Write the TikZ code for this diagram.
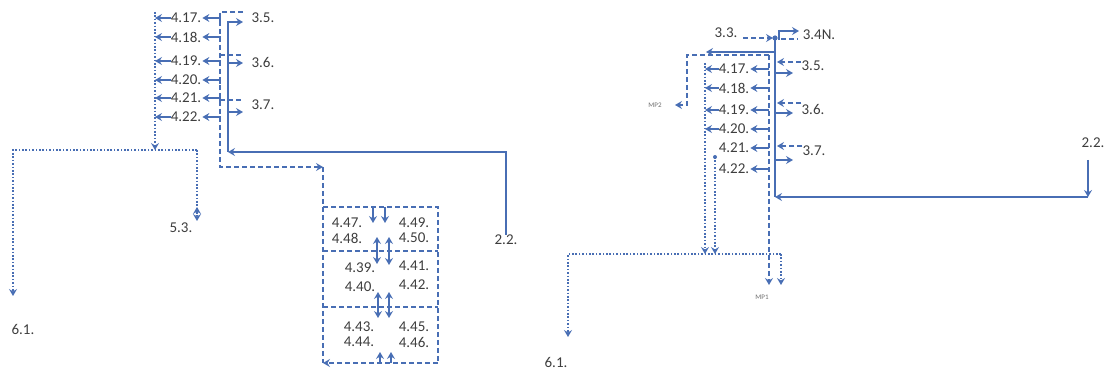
\documentclass[tikz,border=0pt]{standalone}
\usepackage{fontspec}
\setmainfont{Carlito}
\usepackage{xcolor}
\usetikzlibrary{arrows.meta}
\definecolor{lineblue}{RGB}{72,110,180}
\definecolor{textgray}{RGB}{62,62,62}

\begin{document}
\begin{tikzpicture}[>={Stealth[length=7pt,width=8pt,inset=2.5pt]},x=1pt,y=-1pt,thin]
                \tikzset{lbl/.style={text=textgray, font=\fontsize{15}{15}\selectfont, inner sep=0pt},
                         tinylbl/.style={text=textgray!75, font=\fontsize{7}{7}\selectfont, inner sep=0pt},
                         sline/.style={draw=lineblue, line width=1.3pt},
                         dline/.style={draw=lineblue, line width=1.7pt, dash pattern=on 5pt off 3pt},
                         oline/.style={draw=lineblue, line width=1.7pt, dash pattern=on 1.7pt off 1.7pt}}
                \useasboundingbox (0,0) rectangle (1106,371);
                % left part
                \node[lbl] (a417) at (186,18) {4.17.};
                \node[lbl] (a418) at (186,37) {4.18.};
                \node[lbl] (a419) at (186,61) {4.19.};
                \node[lbl] (a420) at (186,80) {4.20.};
                \node[lbl] (a421) at (186,98) {4.21.};
                \node[lbl] (a422) at (186,117) {4.22.};
                \node[lbl] (a35) at (263,18) {3.5.};
                \node[lbl] (a36) at (263,62) {3.6.};
                \node[lbl] (a37) at (263,105) {3.7.};
                \node[lbl] (a53) at (181,228) {5.3.};
                \node[lbl] (a61) at (23,329) {6.1.};
                \node[lbl] (a22) at (506,240) {2.2.};
                \coordinate (aDotTop) at (155,12);
                \coordinate (aHorL) at (13,150);
                \coordinate (aHorR) at (197,150);
                \coordinate (aEnd61) at (13,296);
                \coordinate (aEnd53) at (197,221);
                \coordinate (aDashTop) at (220,12);
                \coordinate (aD35) at (243,12);
                \coordinate (aD36) at (243,55);
                \coordinate (aD37) at (243,100);
                \coordinate (aS35) at (243,22);
                \coordinate (aS36) at (243,63);
                \coordinate (aS37) at (243,112);
                \coordinate (aSolBot) at (228,152);
                \coordinate (aBoxTurn) at (323,167);
                \draw[oline,->] (aDotTop) -- (aDotTop |- aHorR);
                \draw[oline,->] (aHorR) -| (aEnd61);
                \draw[oline,->] (aHorR) -- (aEnd53);
                \draw[lineblue,line width=1.5pt,->] ([yshift=7pt]aEnd53) -- ([yshift=14pt]aEnd53);
                \draw[sline,->] (a417.west) -- (a417.west -| aDotTop);
                \draw[sline,->] (a418.west) -- (a418.west -| aDotTop);
                \draw[sline,->] (a419.west) -- (a419.west -| aDotTop);
                \draw[sline,->] (a420.west) -- (a420.west -| aDotTop);
                \draw[sline,->] (a421.west) -- (a421.west -| aDotTop);
                \draw[sline,->] (a422.west) -- (a422.west -| aDotTop);
                \draw[sline,->,shorten >=1pt] ([yshift=-4pt]a417.east -| aDashTop) |- (a417.east);
                \draw[sline,->,shorten >=1pt] ([yshift=-4pt]a418.east -| aDashTop) |- (a418.east);
                \draw[sline,->,shorten >=1pt] ([yshift=-4pt]a419.east -| aDashTop) |- (a419.east);
                \draw[sline,->,shorten >=1pt] ([yshift=-4pt]a420.east -| aDashTop) |- (a420.east);
                \draw[sline,->,shorten >=1pt] ([yshift=-4pt]a421.east -| aDashTop) |- (a421.east);
                \draw[sline,->,shorten >=1pt] ([yshift=-4pt]a422.east -| aDashTop) |- (a422.east);
                \draw[dline,->] (aD35) -- (aDashTop) |- (aBoxTurn);
                \draw[dline] (aD36 -| aDashTop) -- (aD36);
                \draw[dline] (aD37 -| aDashTop) -- (aD37);
                \draw[sline,->] (a22.north) |- (aSolBot);
                \draw[sline,->] (aSolBot) |- (aS35);
                \draw[sline,->] (aSolBot |- aS36) -- (aS36);
                \draw[sline,->] (aSolBot |- aS37) -- (aS37);
                % box
                \coordinate (bTL) at (323,207);
                \coordinate (bTR) at (438,207);
                \coordinate (bBL) at (323,363);
                \coordinate (bBR) at (438,363);
                \coordinate (bM1) at (323,251);
                \coordinate (bM2) at (323,307);
                \draw[dline] (aBoxTurn) -- (bBL);
                \draw[dline] (bTL) -- (bTR) -- (bBR);
                \draw[dline,->] (bBR) -- (bBL);
                \draw[dline] (bM1) -- (bM1 -| bTR);
                \draw[dline] (bM2) -- (bM2 -| bTR);
                \node[lbl] (b447) at (347,223) {4.47.};
                \node[lbl] (b449) at (414,223) {4.49.};
                \node[lbl] (b448) at (347,238) {4.48.};
                \node[lbl] (b450) at (414,238) {4.50.};
                \node[lbl] (b439) at (360,268) {4.39.};
                \node[lbl] (b441) at (414,266) {4.41.};
                \node[lbl] (b440) at (360,287) {4.40.};
                \node[lbl] (b442) at (414,285) {4.42.};
                \node[lbl] (b443) at (359,327) {4.43.};
                \node[lbl] (b445) at (414,327) {4.45.};
                \node[lbl] (b444) at (359,342) {4.44.};
                \node[lbl] (b446) at (414,342) {4.46.};
                \coordinate (bA1) at (373,207);
                \coordinate (bA2) at (385,207);
                \coordinate (bU1) at (377,237);
                \coordinate (bU2) at (389,237);
                \coordinate (bV1) at (378,292);
                \coordinate (bV2) at (389,292);
                \coordinate (bW1) at (380,363);
                \coordinate (bW2) at (391,363);
                \draw[sline,->] (bA1) -- ([yshift=-16pt]bA1);
                \draw[sline,->] (bA2) -- ([yshift=-16pt]bA2);
                \draw[sline,<->] (bU1) -- ([yshift=-27pt]bU1);
                \draw[sline,<->] (bU2) -- ([yshift=-28pt]bU2);
                \draw[sline,<->] (bV1) -- ([yshift=-26pt]bV1);
                \draw[sline,<->] (bV2) -- ([yshift=-26pt]bV2);
                \draw[sline,->] (bW1) -- ([yshift=11pt]bW1);
                \draw[sline,->] (bW2) -- ([yshift=11pt]bW2);
                % right part
                \node[lbl] (c33) at (726,33) {3.3.};
                \node[lbl] (c34) at (819,35) {3.4N.};
                \node[lbl] (c35) at (813,66) {3.5.};
                \node[lbl] (c36) at (813,109) {3.6.};
                \node[lbl] (c37) at (814,151) {3.7.};
                \node[lbl] (c417) at (734,69) {4.17.};
                \node[lbl] (c418) at (734,88) {4.18.};
                \node[lbl] (c419) at (734,110) {4.19.};
                \node[lbl] (c420) at (734,129) {4.20.};
                \node[lbl] (c421) at (734,148) {4.21.};
                \node[lbl] (c422) at (734,169) {4.22.};
                \node[lbl] (c61) at (556,362) {6.1.};
                \node[lbl] (c22) at (1093,143) {2.2.};
                \node[tinylbl] (mp1) at (762,297) {MP1};
                \node[tinylbl] (mp2) at (655,105) {MP2};
                \coordinate (cDot) at (775,38);
                \coordinate (cD33) at (743,38);
                \coordinate (cS34) at (799,31);
                \coordinate (cD34) at (798,39);
                \coordinate (cS52) at (706,52);
                \coordinate (cS22) at (1088,160);
                \coordinate (cSBot) at (775,197);
                \coordinate (cS35) at (793,73);
                \coordinate (cS36) at (793,113);
                \coordinate (cS37) at (793,160);
                \coordinate (cD35) at (777,62);
                \coordinate (cD36) at (777,103);
                \coordinate (cD37) at (777,146);
                \coordinate (cDV) at (769,55);
                \coordinate (cMP1a) at (769,285);
                \coordinate (cMP1b) at (781,285);
                \coordinate (cMP2) at (687,105);
                \coordinate (cMP2end) at (675,105);
                \coordinate (cO1) at (705,63);
                \coordinate (cO2) at (715,157);
                \coordinate (cOL) at (568,254);
                \coordinate (cOR) at (781,254);
                \coordinate (c61end) at (568,337);
                \draw[dline,->,shorten >=2pt] (cD33) -- (cDot);
                \draw[sline,->] ([xshift=4pt,yshift=-2pt]cDot) |- (cS34);
                \draw[dline] ([xshift=6pt,yshift=-1pt]cDot) -- (cD34);
                \draw[sline,->] (cS22) -- (cS22 |- cSBot);
                \draw[sline,->] (cS22 |- cSBot) -- (cSBot);
                \draw[sline] (cSBot) -- (cDot);
                \draw[sline,->] (cS52 -| cDot) -- (cS52);
                \draw[sline,->] (cS35 -| cDot) -- (cS35);
                \draw[sline,->] (cS36 -| cDot) -- (cS36);
                \draw[sline,->] (cS37 -| cDot) -- (cS37);
                \draw[dline,->] (cD35 -| c35.west) -- (cD35);
                \draw[dline,->] (cD36 -| c36.west) -- (cD36);
                \draw[dline,->] (cD37 -| c37.west) -- (cD37);
                \fill[lineblue] (cDot) circle (2.6);
                \draw[dline,->] (cDV) -- (cMP1a);
                \draw[dline,->] (cDV) -| (cMP2) -- (cMP2end);
                \draw[sline,->,shorten >=1pt] (c417.east -| cDV) -- (c417.east);
                \draw[sline,->,shorten >=1pt] (c418.east -| cDV) -- (c418.east);
                \draw[sline,->,shorten >=1pt] (c419.east -| cDV) -- (c419.east);
                \draw[sline,->,shorten >=1pt] (c420.east -| cDV) -- (c420.east);
                \draw[sline,->,shorten >=1pt] (c421.east -| cDV) -- (c421.east);
                \draw[sline,->,shorten >=1pt] (c422.east -| cDV) -- (c422.east);
                \draw[sline,->] (c417.west) -- (c417.west -| cO1);
                \draw[sline,->] (c418.west) -- (c418.west -| cO1);
                \draw[sline,->] (c419.west) -- (c419.west -| cO1);
                \draw[sline,->] (c420.west) -- (c420.west -| cO1);
                \draw[oline,->] (cO1) -- (cO1 |- cOL);
                \draw[oline,->] (cO2) -- (cO2 |- cOL);
                \fill[lineblue] (cO2) circle (2);
                \draw[oline,->] (cOR) -| (c61end);
                \draw[oline,->] (cOR) -- (cMP1b);
\end{tikzpicture}
\end{document}
